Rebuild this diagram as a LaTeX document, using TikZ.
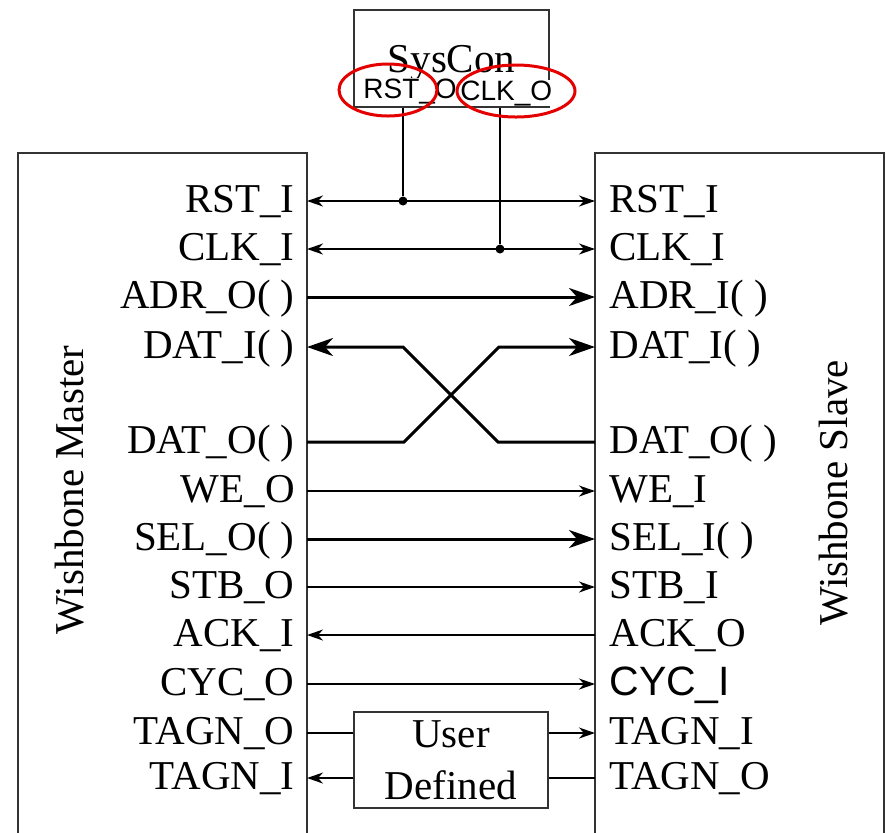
\documentclass[tikz,border=0pt]{standalone}
\usepackage{fontspec}
\setmainfont{Liberation Serif}
\setsansfont{Liberation Sans}
\usetikzlibrary{arrows.meta}

\begin{document}
\begin{tikzpicture}[
  x=0.5pt, y=-0.5pt,
  every node/.style={inner sep=0pt, font=\fontsize{20.5}{26}\selectfont},
  box/.style={draw=black!80, line width=1pt},
  sig/.style={draw, line width=0.8pt},
  bus/.style={draw, line width=1.5pt},
  joint/.style={circle, fill=black, minimum size=4.5pt, inner sep=0pt},
  tipthin/.tip={Stealth[length=8pt, width=5.5pt, inset=2.5pt]},
  tipthick/.tip={Stealth[length=13pt, width=9pt, inset=4pt]},
  % the two hand-drawn red marks over SysCon's outputs
  outname/.style={font=\sffamily\fontsize{14}{16}\selectfont, fill=white, inner xsep=1pt, inner ysep=0pt},
  redring/.style={draw=red!90!black, line width=1.5pt}]

  \clip (0,0) rectangle (886,832);

  % boxes
  \node[box, minimum width=144.5pt, minimum height=345pt] (master) at (162.5,498) {};
  \node[box, minimum width=144.5pt, minimum height=345pt] (slave)  at (739.5,498) {};
  \node[box, minimum width=97.5pt, minimum height=48.5pt, text depth=0pt] (syscon) at (451.5,58.5) {SysCon};
  \node[box, minimum width=97pt, minimum height=48pt, align=center] (user) at (451,760) {User\\Defined};

  \node[rotate=90] (mastername) at (70,490) {Wishbone Master};
  \node[rotate=90] (slavename)  at (834,493) {Wishbone Slave};

  % ports and their names
  \foreach \row/\y/\ltext/\rtext in {
      rst/201/RST\_I/RST\_I, clk/249/CLK\_I/CLK\_I,
      adr/297/ADR\_O( )/ADR\_I( ), dati/347/DAT\_I( )/DAT\_I( ),
      dato/442/DAT\_O( )/DAT\_O( ), we/491/WE\_O/WE\_I,
      sel/539/SEL\_O( )/SEL\_I( ), stb/587/STB\_O/STB\_I,
      ack/635/ACK\_I/ACK\_O, cyc/684/CYC\_O/{\sffamily CYC\_I},
      taga/733/TAGN\_O/TAGN\_I, tagb/778/TAGN\_I/TAGN\_O} {
    \coordinate (m\row) at (307,\y);
    \coordinate (s\row) at (595,\y);
    \node[anchor=base east] (ml\row) at (295,\y+11) {\ltext};
    \node[anchor=base west] (sl\row) at (609,\y+11) {\rtext};
  }

  % signals
  \draw[sig, tipthin-tipthin] (mrst) -- (srst);
  \draw[sig, tipthin-tipthin] (mclk) -- (sclk);
  \draw[bus, -tipthick] (madr) -- (sadr);
  \draw[bus, tipthick-] (mdati) -- (403,347) -- (498,442) -- (sdato);
  \draw[bus, -tipthick] (mdato) -- (404,442) -- (499,347) -- (sdati);
  \draw[sig, -tipthin] (mwe) -- (swe);
  \draw[bus, -tipthick] (msel) -- (ssel);
  \draw[sig, -tipthin] (mstb) -- (sstb);
  \draw[sig, tipthin-] (mack) -- (sack);
  \draw[sig, -tipthin] (mcyc) -- (scyc);
  \draw[sig] (mtaga) -- (user.west |- mtaga);
  \draw[sig, -tipthin] (user.east |- mtaga) -- (staga);
  \draw[sig, tipthin-] (mtagb) -- (user.west |- mtagb);
  \draw[sig] (user.east |- mtagb) -- (stagb);

  % SysCon outputs
  \node[joint] (rstdot) at (403,201) {};
  \node[joint] (clkdot) at (500,249) {};
  \draw[sig] (syscon.south -| rstdot) -- (rstdot);
  \draw[sig] (syscon.south -| clkdot) -- (clkdot);

  \node[outname, anchor=base west] (rsto) at (361,98) {RST\_O};
  \node[outname, anchor=base west] (clko) at (458,100) {CLK\_O};
  \draw[redring] (388,90) ellipse [x radius=49, y radius=26];
  \draw[redring] (516,91) ellipse [x radius=59, y radius=26];
\end{tikzpicture}
\end{document}
